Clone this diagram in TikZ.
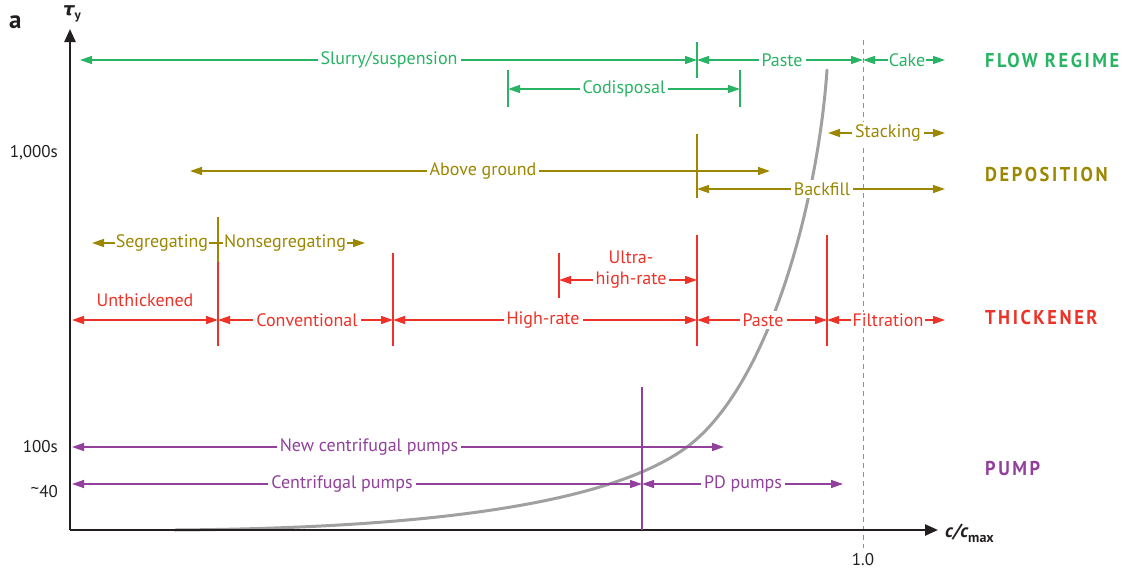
\documentclass[tikz,border=0pt]{standalone}
\usepackage{fontspec}
\setmainfont{PT Sans}
\newfontfamily\dejavu{DejaVu Sans}
\usetikzlibrary{arrows.meta}
\definecolor{cgreen}{RGB}{40,180,100}
\definecolor{colive}{RGB}{155,135,0}
\definecolor{cred}{RGB}{238,50,40}
\definecolor{cpurple}{RGB}{145,65,155}
\definecolor{caxis}{RGB}{35,31,32}
\definecolor{ccurve}{RGB}{160,160,160}
\newcommand{\lblfont}{\fontsize{18}{21}\selectfont}
\newcommand{\headfont}{\fontsize{20}{22}\selectfont\bfseries}
\newcommand{\headtxt}[1]{\scalebox{0.92}[1]{\addfontfeatures{LetterSpace=14}#1}}
\tikzset{
  dimline/.style={line width=1.4pt, {Triangle[length=12pt,width=8pt]}-{Triangle[length=12pt,width=8pt]}},
  oneway/.style={line width=1.4pt, -{Triangle[length=12pt,width=8pt]}},
  lab/.style={fill=white, inner sep=3pt, font=\lblfont},
  plainlab/.style={inner sep=1pt, font=\lblfont},
  vtick/.style={line width=1.2pt},
  head/.style={anchor=west, inner sep=0pt, font=\headfont},
  axislab/.style={font=\fontsize{17}{20}\selectfont, text=caxis, inner sep=0pt},
}
\begin{document}
\begin{tikzpicture}[x=1pt,y=-1pt]
\useasboundingbox (0,0) rectangle (1124,568);
% dashed reference line
\draw[ccurve!90!black, line width=1pt, dash pattern=on 5pt off 4pt] (863,40) coordinate (d1) -- (863,548) coordinate (d2);
% curve
\coordinate (k0) at (175,530);
\coordinate (k1) at (687,447);
\coordinate (k2) at (827,70);
\draw[ccurve, line width=3pt, line cap=round] (k0) .. controls (450,528) and (615,500) .. (k1) .. controls (770,385) and (818,200) .. (k2);
% axes
\coordinate (O) at (70,530);
\coordinate (ytop) at (70,29);
\coordinate (xend) at (938,530);
\draw[caxis, line width=2.4pt, -{Triangle[length=13pt,width=11pt]}] (O) -- (ytop);
\draw[caxis, line width=2.4pt, -{Triangle[length=13pt,width=11pt]}] (O) -- (xend);
\node[anchor=north west, inner sep=0pt, font=\fontsize{25}{27}\selectfont\bfseries, text=caxis] (a) at (9,16) {a};
\node[inner sep=0pt, text=caxis, font=\fontsize{18}{18}\selectfont] (tau) at (72,14) {{\dejavu\bfseries\itshape τ}\raisebox{-4pt}{\fontsize{13}{13}\selectfont\bfseries y}};
\node[anchor=west, inner sep=0pt, text=caxis, font=\fontsize{19}{20}\selectfont\bfseries] (cc) at (945,533) {\itshape c/c\raisebox{-5pt}{\upshape\fontsize{14}{14}\selectfont max}};
\node[axislab, anchor=east] (t1000) at (58,153) {1,000s};
\node[axislab, anchor=east] (t100) at (58,447) {100s};
\node[axislab, anchor=east] (t40) at (58,492) {\raisebox{3pt}{\textasciitilde}40};
\node[axislab, anchor=base] (one) at (863,565) {1.0};

% ===== FLOW REGIME (green) =====
\begin{scope}[cgreen, text=cgreen]
\draw[vtick] (697,42) coordinate (g1a) -- (697,78) coordinate (g1b);
\draw[vtick] (508,70) coordinate (g2a) -- (508,107) coordinate (g2b);
\draw[vtick] (740,70) coordinate (g3a) -- (740,107) coordinate (g3b);
\coordinate (gL) at (80,60); \coordinate (gM) at (697,60); \coordinate (gD) at (863,60); \coordinate (gR) at (945,60);
\draw[dimline] (gL) -- (gM);
\draw[dimline] (gM) -- (gD);
\draw[dimline] (gD) -- (gR);
\coordinate (cL) at (508,89); \coordinate (cR) at (740,89);
\draw[dimline] (cL) -- (cR);
\node[lab] (slurry) at (389,60) {Slurry/suspension};
\node[lab] (gpaste) at (782,60) {Paste};
\node[lab, inner sep=1pt] (cake) at (907,60) {Cake};
\node[lab] (codis) at (624,89) {Codisposal};
\node[head] (hflow) at (985,60) {\headtxt{FLOW REGIME}};
\end{scope}

% ===== DEPOSITION (olive) =====
\begin{scope}[colive, text=colive]
\draw[vtick] (697,134) coordinate (o1a) -- (697,198) coordinate (o1b);
\draw[vtick] (218,217) coordinate (o2a) -- (218,262) coordinate (o2b);
\coordinate (aL) at (190,171); \coordinate (aR) at (770,171);
\draw[dimline] (aL) -- (aR);
\coordinate (bL) at (697,189); \coordinate (bR) at (945,189);
\draw[dimline] (bL) -- (bR);
\coordinate (sL) at (828,133); \coordinate (sR) at (945,133);
\draw[dimline] (sL) -- (sR);
\coordinate (segM) at (218,243); \coordinate (segL) at (92,243); \coordinate (segR) at (365,243);
\draw[oneway] (segM) -- (segL);
\draw[oneway] (segM) -- (segR);
\node[lab] (above) at (483,171) {Above ground};
\node[lab] (backfill) at (822,189) {Backfill};
\node[lab] (stack) at (888,133) {Stacking};
\node[lab, inner sep=1pt] (seg) at (162,243) {Segregating};
\node[lab, inner sep=1pt] (nonseg) at (285,243) {Nonsegregating};
\node[head] (hdep) at (985,174) {\headtxt{DEPOSITION}};
\end{scope}

% ===== THICKENER (red) =====
\begin{scope}[cred, text=cred]
\draw[vtick] (218,262) coordinate (r1a) -- (218,346) coordinate (r1b);
\draw[vtick] (393,253) coordinate (r2a) -- (393,346) coordinate (r2b);
\draw[vtick] (697,235) coordinate (r3a) -- (697,346) coordinate (r3b);
\draw[vtick] (827,235) coordinate (r4a) -- (827,346) coordinate (r4b);
\draw[vtick] (559,253) coordinate (r5a) -- (559,298) coordinate (r5b);
\coordinate (t0) at (72,320); \coordinate (t1) at (218,320); \coordinate (t2) at (393,320);
\coordinate (t3) at (697,320); \coordinate (t4) at (827,320); \coordinate (t5) at (945,320);
\draw[dimline] (t0) -- (t1);
\draw[dimline] (t1) -- (t2);
\draw[dimline] (t2) -- (t3);
\draw[dimline] (t3) -- (t4);
\draw[dimline] (t4) -- (t5);
\coordinate (uL) at (559,280); \coordinate (uR) at (697,280);
\draw[dimline] (uL) -- (uR);
\node[plainlab] (unth) at (145,300) {Unthickened};
\node[lab] (conv) at (307,320) {Conventional};
\node[lab] (high) at (543,320) {High-rate};
\node[lab] (rpaste) at (763,320) {Paste};
\node[lab, inner sep=2pt] (filt) at (888,320) {Filtration};
\node[lab] (uhr2) at (631,280) {high-rate};
\node[plainlab] (uhr1) at (631,257) {Ultra-};
\node[head] (hthick) at (985,317) {\headtxt{THICKENER}};
\end{scope}

% ===== PUMP (purple) =====
\begin{scope}[cpurple, text=cpurple]
\draw[vtick] (642,387) coordinate (p1a) -- (642,530) coordinate (p1b);
\coordinate (nL) at (72,447); \coordinate (nR) at (724,447);
\draw[dimline] (nL) -- (nR);
\coordinate (cpL) at (72,484); \coordinate (cpM) at (642,484); \coordinate (cpR) at (843,484);
\draw[dimline] (cpL) -- (cpM);
\draw[dimline] (cpM) -- (cpR);
\node[lab] (newc) at (369,447) {New centrifugal pumps};
\node[lab] (centr) at (342,484) {Centrifugal pumps};
\node[lab] (pd) at (743,484) {PD pumps};
\node[head] (hpump) at (985,469) {\headtxt{PUMP}};
\end{scope}
\end{tikzpicture}
\end{document}
